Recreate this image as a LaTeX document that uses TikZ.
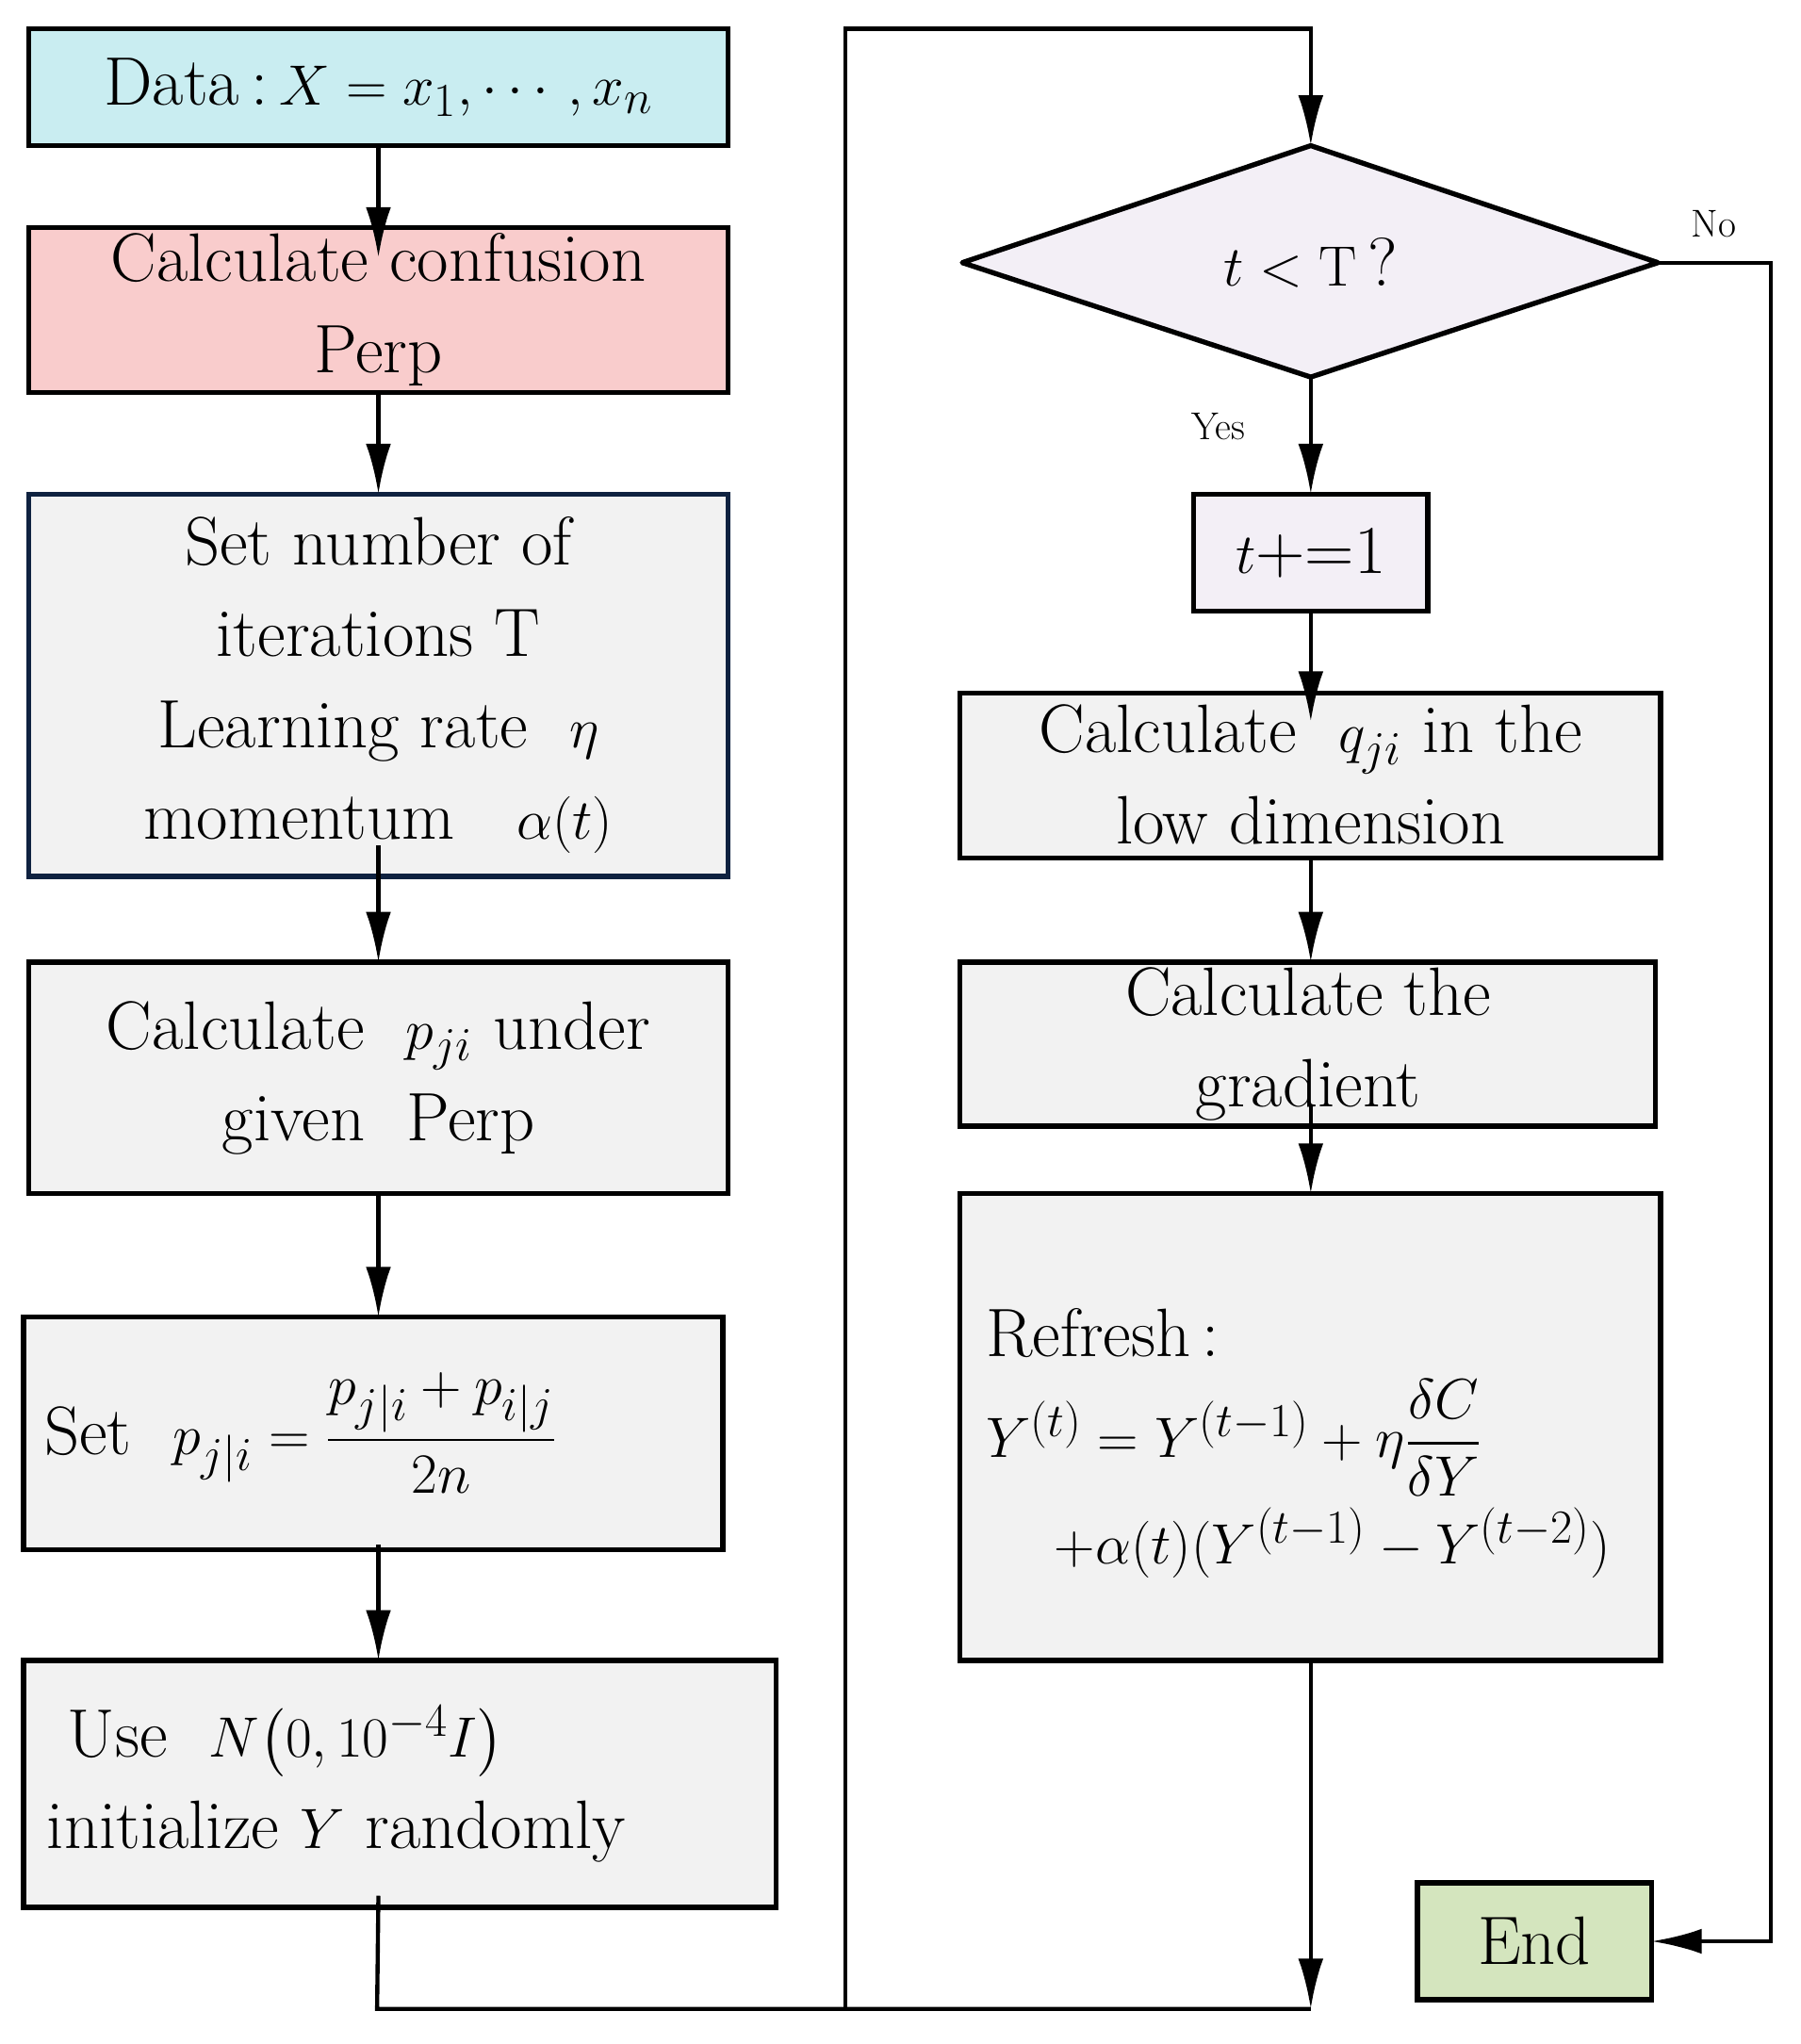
\documentclass[tikz,border=0pt]{standalone}
\usepackage{amsmath}
\usetikzlibrary{arrows.meta}
\begin{document}
\begin{tikzpicture}[x=0.02cm,y=-0.02cm,
 box/.style={draw,line width=2.2pt,fill=boxgray},
 ln/.style={line width=1.8pt},
 arr/.style={ln,-{Latex[length=22pt,width=11pt]}},
 txt/.style={align=center,font=\fontsize{30}{40}\selectfont},
 lbl/.style={font=\fontsize{17}{20}\selectfont}]
\definecolor{boxgray}{HTML}{F2F2F2}
\definecolor{cyanf}{HTML}{C9EDF1}
\definecolor{pinkf}{HTML}{F9CCCC}
\definecolor{lilac}{HTML}{F3EFF6}
\definecolor{greenf}{HTML}{D4E5BE}
\definecolor{navy}{HTML}{0F2240}
\useasboundingbox (0,0) rectangle (1385,1572);
% left column
\draw[box,fill=cyanf] (22,22) rectangle (560,112);
\node[txt] (data) at (291,67) {Data\,:\,$X=x_1,\cdots,x_n$};
\draw[box,fill=pinkf] (22,175) rectangle (560,302);
\node[txt] (conf) at (291,238) {Calculate confusion\\Perp};
\draw[box,draw=navy] (22,380) rectangle (560,674);
\node[txt] (set) at (291,527) {Set number of\\iterations T\\Learning rate \ $\eta$\\momentum \ \ $\alpha(t)$};
\draw[box] (22,740) rectangle (560,918);
\node[txt] (pji) at (291,829) {Calculate \ $p_{ji}$ under\\given \ Perp};
\draw[box] (18,1013) rectangle (556,1192);
\node[txt,anchor=west] (pset) at (28,1102) {Set \ $p_{j|i}=\dfrac{p_{j|i}+p_{i|j}}{2n}$};
\draw[box] (18,1277) rectangle (597,1467);
\node[txt,align=left,anchor=west] (use) at (30,1372) {\ Use \ $N\big(0,10^{-4}I\big)$\\initialize $Y$ randomly};
% right column
\draw[line width=2.2pt,fill=lilac,line join=round] (740,202) -- (1008,112) -- (1275,202) -- (1008,290) -- cycle;
\node[txt] (dia) at (1008,202) {$t<\mathrm{T}$\,?};
\draw[box,fill=lilac] (918,380) rectangle (1098,470);
\node[txt] (inc) at (1008,425) {$t$+=1};
\draw[box] (738,533) rectangle (1277,660);
\node[txt] (q) at (1008,596) {Calculate \ $q_{ji}$ in the\\low dimension};
\draw[box] (738,740) rectangle (1273,866);
\node[txt] (grad) at (1006,803) {Calculate the\\gradient};
\draw[box] (738,918) rectangle (1277,1277);
\node[txt,align=left,anchor=west] (ref) at (752,1110) {Refresh\,:\\[4pt]$Y^{(t)}=Y^{(t-1)}+\eta\dfrac{\delta C}{\delta Y}$\\[4pt]\quad$+\alpha(t)(Y^{(t-1)}-Y^{(t-2)})$};
\draw[box,fill=greenf] (1090,1448) rectangle (1270,1538);
\node[txt] (end) at (1180,1493) {End};
% connectors
\coordinate (b1) at (290,1545);
\coordinate (b2) at (650,1545);
\coordinate (b3) at (1008,1545);
\coordinate (t1) at (650,22);
\coordinate (t2) at (1008,22);
\coordinate (r1) at (1362,202);
\coordinate (r2) at (1362,1493);
\draw[arr] (291,112) -- (291,198);
\draw[arr] (291,302) -- (291,380);
\draw[arr] (291,650) -- (291,740);
\draw[arr] (291,918) -- (291,1013);
\draw[arr] (291,1188) -- (291,1277);
\draw[ln] (291,1458) -- (b1) -- (b3);
\draw[arr] (b2) -- (t1) -- (t2) -- (1008,112);
\draw[arr] (1008,290) -- (1008,380);
\draw[arr] (1008,470) -- (1008,555);
\draw[arr] (1008,660) -- (1008,740);
\draw[arr] (1008,850) -- (1008,918);
\draw[arr] (1008,1277) -- (b3);
\draw[arr] (1275,202) -- (r1) -- (r2) -- (1270,1493);
\node[lbl] at (1318,172) {No};
\node[lbl] at (937,328) {Yes};
\end{tikzpicture}
\end{document}
